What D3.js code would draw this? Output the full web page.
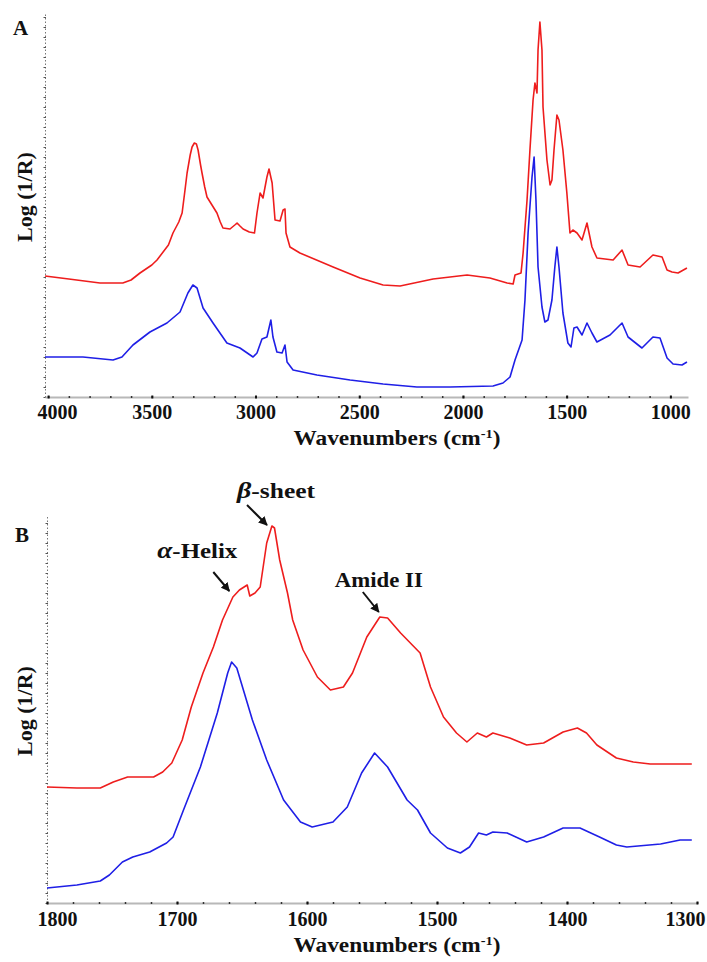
<!DOCTYPE html>
<html>
<head>
<meta charset="utf-8">
<script src="https://cdn.jsdelivr.net/npm/d3@7"></script>
<style>
  body { margin: 0; background: #fff; }
  text { font-family: "Liberation Serif", "Times New Roman", serif; font-weight: bold; fill: #111; }
</style>
</head>
<body>
<div id="chart"></div>
<script>
// Panel A: full spectrum, wavenumber (cm-1) and Log(1/R)
var aRedWn = [4015, 3900, 3750, 3640, 3600, 3557, 3500, 3475, 3420, 3398,
  3370, 3354, 3340, 3330, 3315, 3306, 3295, 3285, 3277, 3265,
  3258, 3245, 3234, 3210, 3186, 3170, 3157, 3123, 3100, 3089,
  3075, 3060, 3030, 3005, 2993, 2978, 2964, 2945, 2935, 2920,
  2906, 2882, 2867, 2858, 2853, 2834, 2786, 2626, 2496, 2385,
  2303, 2144, 1980, 1870, 1787, 1758, 1749, 1720, 1710, 1691,
  1677, 1662, 1653, 1643, 1638, 1629, 1619, 1614, 1595, 1580,
  1571, 1561, 1547, 1537, 1518, 1499, 1484, 1470, 1450, 1426,
  1402, 1378, 1354, 1276, 1233, 1204, 1146, 1084, 1040, 1016,
  992, 963, 920]
var aRedVal = [1.21, 1.18, 1.14, 1.14, 1.17, 1.24, 1.32, 1.37, 1.52, 1.64,
  1.75, 1.84, 2.07, 2.24, 2.42, 2.50, 2.54, 2.53, 2.47, 2.32,
  2.24, 2.10, 2.00, 1.92, 1.84, 1.75, 1.69, 1.68, 1.72, 1.74,
  1.71, 1.68, 1.65, 1.64, 1.84, 2.04, 1.99, 2.20, 2.28, 2.14,
  1.77, 1.76, 1.87, 1.88, 1.64, 1.50, 1.44, 1.30, 1.19, 1.12,
  1.11, 1.18, 1.22, 1.19, 1.14, 1.13, 1.22, 1.24, 1.44, 1.97,
  2.47, 2.97, 3.14, 3.04, 3.47, 3.75, 3.47, 2.90, 2.37, 2.12,
  2.17, 2.47, 2.82, 2.77, 2.47, 2.04, 1.64, 1.67, 1.64, 1.57,
  1.74, 1.50, 1.39, 1.37, 1.47, 1.32, 1.30, 1.42, 1.40, 1.27,
  1.25, 1.24, 1.29]
var aBlueWn = [4015, 3832, 3687, 3644, 3591, 3509, 3427, 3364, 3326, 3302,
  3282, 3253, 3205, 3138, 3075, 3012, 2993, 2969, 2945, 2926,
  2916, 2897, 2872, 2858, 2848, 2819, 2704, 2544, 2385, 2222,
  2062, 1855, 1807, 1773, 1749, 1715, 1701, 1686, 1667, 1657,
  1648, 1638, 1619, 1605, 1590, 1571, 1557, 1547, 1537, 1518,
  1494, 1479, 1465, 1450, 1426, 1402, 1378, 1354, 1291, 1233,
  1204, 1137, 1084, 1050, 1016, 987, 944, 920]
var aBlueVal = [0.40, 0.40, 0.37, 0.40, 0.52, 0.65, 0.74, 0.85, 1.04, 1.12,
  1.09, 0.89, 0.74, 0.54, 0.49, 0.40, 0.44, 0.58, 0.60, 0.77,
  0.60, 0.45, 0.44, 0.52, 0.35, 0.27, 0.22, 0.17, 0.13, 0.10,
  0.10, 0.11, 0.14, 0.20, 0.37, 0.57, 0.97, 1.64, 2.20, 2.40,
  1.97, 1.30, 0.90, 0.75, 0.77, 0.97, 1.30, 1.50, 1.30, 0.84,
  0.54, 0.50, 0.69, 0.70, 0.62, 0.74, 0.64, 0.55, 0.62, 0.74,
  0.60, 0.49, 0.60, 0.59, 0.39, 0.33, 0.32, 0.35]
var aMajorTicks = [4000, 3500, 3000, 2500, 2000, 1500, 1000]
var aMinorTicks = d3.range(4000, 999, -100)

// Panel B: amide region
var bRedWn = [1800, 1777, 1759, 1749, 1738, 1718, 1711, 1704, 1696, 1689,
  1680, 1672, 1665, 1657, 1652, 1646, 1644, 1640, 1636, 1631,
  1627, 1625, 1621, 1615, 1611, 1603, 1592, 1582, 1572, 1565,
  1554, 1544, 1538, 1528, 1519, 1513, 1505, 1495, 1485, 1477,
  1469, 1462, 1457, 1444, 1431, 1418, 1403, 1392, 1385, 1377,
  1362, 1349, 1336, 1304]
var bRedVal = [1.16, 1.15, 1.15, 1.21, 1.26, 1.26, 1.31, 1.40, 1.63, 1.96,
  2.30, 2.56, 2.83, 3.06, 3.13, 3.18, 3.07, 3.10, 3.16, 3.60,
  3.77, 3.75, 3.43, 3.10, 2.83, 2.53, 2.26, 2.13, 2.16, 2.30,
  2.66, 2.86, 2.85, 2.70, 2.58, 2.50, 2.16, 1.86, 1.70, 1.61,
  1.70, 1.66, 1.70, 1.65, 1.58, 1.60, 1.71, 1.75, 1.70, 1.58,
  1.45, 1.41, 1.39, 1.39]
var bBlueWn = [1800, 1777, 1759, 1752, 1742, 1734, 1721, 1708, 1703, 1695,
  1682, 1669, 1661, 1658, 1654, 1642, 1631, 1618, 1605, 1596,
  1580, 1569, 1558, 1548, 1538, 1523, 1515, 1505, 1492, 1482,
  1475, 1468, 1462, 1457, 1446, 1431, 1418, 1403, 1390, 1375,
  1362, 1354, 1328, 1313, 1304]
var bBlueVal = [0.15, 0.18, 0.22, 0.28, 0.41, 0.46, 0.51, 0.60, 0.66, 0.93,
  1.36, 1.90, 2.30, 2.41, 2.35, 1.83, 1.43, 1.03, 0.81, 0.76,
  0.81, 0.96, 1.30, 1.50, 1.36, 1.03, 0.93, 0.70, 0.55, 0.50,
  0.56, 0.70, 0.68, 0.71, 0.70, 0.61, 0.66, 0.75, 0.75, 0.66,
  0.58, 0.56, 0.59, 0.63, 0.63]
var bMajorTicks = [1800, 1700, 1600, 1500, 1400, 1300]
var bMinorTicks = d3.range(1800, 1299, -20)

// Peak annotations in panel B (greek prefix, label, wavenumber, value at arrow tip)
var annGreek = ['β', 'α', '']
var annText = ['-sheet', '-Helix', 'Amide II']
var annWn = [1630, 1659, 1544]
var annVal = [3.77, 3.11, 2.90]

var red = '#ee1d1d'
var blue = '#1f1fe6'

var svg = d3.select('#chart').append('svg')
  .attr('width', 707)
  .attr('height', 962)

svg.append('defs').append('marker')
  .attr('id', 'arrow')
  .attr('viewBox', '0 0 10 10')
  .attr('refX', 9)
  .attr('refY', 5)
  .attr('markerWidth', 4.5)
  .attr('markerHeight', 4.5)
  .attr('orient', 'auto')
  .append('path')
  .attr('d', 'M0,0 L10,5 L0,10 z')
  .attr('fill', '#111')

function pairs (wn, val) {
  return wn.map(function (w, i) { return [w, val[i]] })
}

/**
 * Draw one spectrum panel with its axes and labels
 */
function drawPanel (p) {
  var x = d3.scaleLinear().domain(p.xDomain).range([p.left, p.right])
  var y = d3.scaleLinear().domain([0, p.yMax]).range([p.bottom, p.top])
  var g = svg.append('g')

  // y axis: dotted line with small unlabeled ticks
  var gy = g.append('g')
    .attr('transform', 'translate(' + p.left + ',0)')
    .call(d3.axisLeft(y).tickValues(d3.range(0, p.yMax, 0.1)).tickSize(2).tickSizeOuter(0).tickFormat(''))
  gy.select('.domain').attr('stroke', '#777').attr('stroke-dasharray', '1.5,2')
  gy.selectAll('.tick line').attr('stroke', '#555').attr('x1', 1).attr('x2', -1.5)

  // x axis: grey line, dotted minor ticks
  var gxMinor = g.append('g')
    .attr('transform', 'translate(0,' + p.bottom + ')')
    .call(d3.axisBottom(x).tickValues(p.minor).tickSize(0).tickSizeOuter(0).tickFormat(''))
  gxMinor.select('.domain').attr('stroke', '#b8b8b8').attr('stroke-width', 2)
  gxMinor.selectAll('.tick line').attr('y1', -1).attr('y2', 1).attr('stroke', '#333').attr('stroke-width', 1.5)

  var gx = g.append('g')
    .attr('transform', 'translate(0,' + p.bottom + ')')
    .call(d3.axisBottom(x).tickValues(p.major).tickSize(0).tickFormat(d3.format('d')))
  gx.select('.domain').remove()
  gx.selectAll('.tick line').attr('y1', -1.5).attr('y2', 1.5).attr('stroke', '#111').attr('stroke-width', 2)
  gx.selectAll('.tick text')
    .attr('y', p.labelGap)
    .attr('dy', 0)
    .style('font-size', '20px')
    .attr('fill', '#111')
    .each(function (d) {
      // keep end labels inside the figure
      var w = this.getComputedTextLength()
      var cx = x(d)
      if (cx - w / 2 < 37) d3.select(this).attr('x', 37 + w / 2 - cx)
      if (cx + w / 2 > 705) d3.select(this).attr('x', 705 - w / 2 - cx)
    })

  // spectra
  var line = d3.line()
    .x(function (d) { return x(d[0]) })
    .y(function (d) { return y(d[1]) })
  p.series.forEach(function (s) {
    g.append('path')
      .datum(pairs(s.wn, s.val))
      .attr('fill', 'none')
      .attr('stroke', s.color)
      .attr('stroke-width', 1.6)
      .attr('stroke-linejoin', 'round')
      .attr('d', line)
  })

  // axis titles
  var title = g.append('text')
    .attr('x', 397)
    .attr('y', p.titleY)
    .attr('text-anchor', 'middle')
    .attr('textLength', 207)
    .attr('lengthAdjust', 'spacingAndGlyphs')
    .style('font-size', '21px')
  title.append('tspan').text('Wavenumbers (cm')
  title.append('tspan').text('-1').attr('dy', -7).style('font-size', '13px')
  title.append('tspan').text(')').attr('dy', 7)

  g.append('text')
    .attr('transform', 'translate(32,' + p.yLabelY + ') rotate(-90)')
    .attr('text-anchor', 'middle')
    .style('font-size', '22px')
    .text('Log (1/R)')

  g.append('text')
    .attr('x', p.letterX)
    .attr('y', p.letterY)
    .style('font-size', '21px')
    .text(p.letter)

  return { x: x, y: y, g: g }
}

drawPanel({
  letter: 'A', letterX: 13, letterY: 35,
  xDomain: [4015, 915], left: 45, right: 688,
  yMax: 3.85, top: 12, bottom: 397,
  major: aMajorTicks, minor: aMinorTicks,
  labelGap: 22, titleY: 445, yLabelY: 197,
  series: [
    { wn: aRedWn, val: aRedVal, color: red },
    { wn: aBlueWn, val: aBlueVal, color: blue }
  ]
})

var pb = drawPanel({
  letter: 'B', letterX: 15, letterY: 542,
  xDomain: [1800, 1300], left: 47, right: 697,
  yMax: 3.88, top: 515, bottom: 903,
  major: bMajorTicks, minor: bMinorTicks,
  labelGap: 23, titleY: 952, yLabelY: 711,
  series: [
    { wn: bRedWn, val: bRedVal, color: red },
    { wn: bBlueWn, val: bBlueVal, color: blue }
  ]
})

// annotation layout: arrow start offset and text offset from the arrow tip
var arrowOff = [[-21, -21], [-17, -20], [-17, -21]]
var textOff = [[-31, -28], [-73, -34], [-45, -26]]
var textLen = [78, 80, 88]

annText.forEach(function (t, i) {
  var tx = pb.x(annWn[i])
  var ty = pb.y(annVal[i])
  pb.g.append('line')
    .attr('x1', tx + arrowOff[i][0])
    .attr('y1', ty + arrowOff[i][1])
    .attr('x2', tx - 1)
    .attr('y2', ty - 1)
    .attr('stroke', '#111')
    .attr('stroke-width', 2)
    .attr('marker-end', 'url(#arrow)')
  var label = pb.g.append('text')
    .attr('x', tx + textOff[i][0])
    .attr('y', ty + textOff[i][1])
    .attr('textLength', textLen[i])
    .attr('lengthAdjust', 'spacingAndGlyphs')
    .style('font-size', '21px')
  if (annGreek[i]) label.append('tspan').style('font-style', 'italic').style('font-size', '23px').text(annGreek[i])
  label.append('tspan').text(t)
})
</script>
</body>
</html>
